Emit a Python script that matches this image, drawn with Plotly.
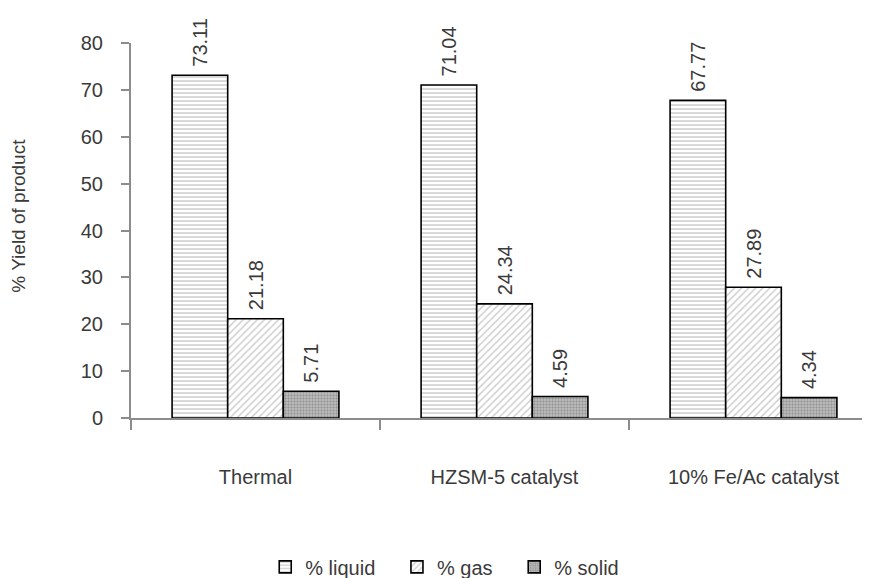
import plotly.graph_objects as go

categories = ["Thermal", "HZSM-5 catalyst", "10% Fe/Ac catalyst"]
liquid = [73.11, 71.04, 67.77]
gas = [21.18, 24.34, 27.89]
solid = [5.71, 4.59, 4.34]
series_names = ["% liquid", "% gas", "% solid"]
y_ticks = [0, 10, 20, 30, 40, 50, 60, 70, 80]
y_title = "% Yield of product"

FONT = "Liberation Sans, Arial, sans-serif"
TXT = "#3a3a3a"
AX = "#8c8c8c"
NB = "\u00a0"

patterns = [
    dict(shape="-", fgcolor="#a0a0a0", bgcolor="white", size=4, solidity=0.4),
    dict(shape="/", fgcolor="#a0a0a0", bgcolor="white", size=5, solidity=0.3),
    dict(shape=".", fgcolor="#6a6a6a", bgcolor="#c4c4c4", size=3, solidity=0.5),
]
legend_pad = [NB * 3, NB * 3, ""]

fig = go.Figure()
for name, vals, pat, pad in zip(series_names, [liquid, gas, solid], patterns, legend_pad):
    fig.add_trace(go.Bar(
        name=name + pad, x=categories, y=vals,
        marker=dict(color="white", pattern=pat, line=dict(color="black", width=1.6)),
        text=[NB + f"{v:.2f}" for v in vals], textposition="outside", textangle=-90,
        textfont=dict(family=FONT, size=20, color=TXT),
        cliponaxis=False, constraintext="none",
    ))

fig.update_layout(
    width=870, height=578,
    margin=dict(l=123, r=0, t=35, b=168, autoexpand=False),
    paper_bgcolor="white", plot_bgcolor="white",
    barmode="group", bargap=0.33, bargroupgap=0,
    font=dict(family=FONT, size=20, color=TXT),
    showlegend=True,
    legend=dict(orientation="h", x=0.42, xanchor="center", y=-0.397, yanchor="middle",
                font=dict(family=FONT, size=20, color=TXT), traceorder="normal",
                itemwidth=30),
    annotations=[dict(text=y_title, textangle=-90, xref="paper", yref="paper",
                      x=-0.151, y=0.54, xanchor="center", yanchor="middle", showarrow=False,
                      font=dict(family=FONT, size=19, color=TXT))],
)
fig.update_xaxes(
    range=[-0.5, 2.5], showline=True, linecolor=AX, linewidth=2,
    ticks="outside", tickson="boundaries", ticklen=10, tickcolor=AX, tickwidth=2,
    ticklabelstandoff=40, tickfont=dict(family=FONT, size=20, color=TXT),
    showgrid=False, zeroline=False, fixedrange=True,
)
fig.update_yaxes(
    range=[0, 80], tickvals=y_ticks, showline=True, linecolor=AX, linewidth=2,
    ticks="outside", ticklen=8, tickcolor=AX, tickwidth=2, ticklabelstandoff=14,
    tickfont=dict(family=FONT, size=20, color=TXT),
    showgrid=False, zeroline=False,
)

fig.write_html("out.html")
